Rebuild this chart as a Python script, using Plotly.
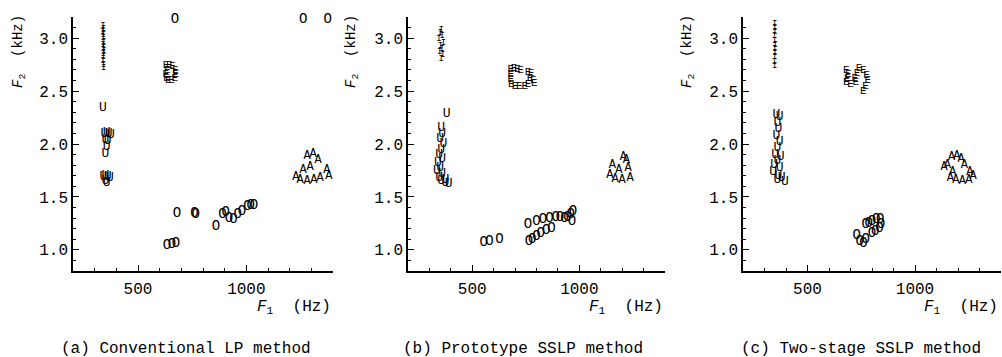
import plotly.graph_objects as go

# ---------------- data (F1 in Hz, F2 in kHz) ----------------
# Panel (a) Conventional LP method
A_I_F1 = [338, 340, 337, 341, 339, 342, 338, 340, 343, 339, 341, 338, 340, 342]
A_I_F2 = [3.12, 3.09, 3.06, 3.03, 3.00, 2.97, 2.94, 2.91, 2.88, 2.85, 2.82, 2.79, 2.75, 2.72]
A_E_F1 = [630, 635, 628, 632, 645, 660, 672, 675, 670, 655, 640]
A_E_F2 = [2.74, 2.70, 2.66, 2.62, 2.74, 2.73, 2.70, 2.66, 2.62, 2.60, 2.60]
A_U_F1 = [338, 345, 355, 365, 375, 350, 360, 355, 350, 340, 350, 360, 370, 355, 350]
A_U_F2 = [2.34, 2.10, 2.11, 2.10, 2.09, 2.04, 2.03, 1.97, 1.91, 1.69, 1.70, 1.69, 1.68, 1.63, 1.65]
A_A_F1 = [1229, 1248, 1262, 1280, 1294, 1280, 1308, 1331, 1312, 1340, 1372, 1381]
A_A_F2 = [1.69, 1.66, 1.75, 1.65, 1.78, 1.89, 1.91, 1.85, 1.66, 1.68, 1.75, 1.70]
A_O_F1 = [670, 1262, 1376, 680, 760, 766, 634, 657, 675, 860,
          890, 905, 920, 940, 960, 980, 1005, 1020, 1035]
A_O_F2 = [3.18, 3.18, 3.18, 1.34, 1.34, 1.33, 1.04, 1.05, 1.06, 1.22,
          1.33, 1.35, 1.30, 1.29, 1.33, 1.36, 1.41, 1.42, 1.42]

# Panel (b) Prototype SSLP method
B_I_F1 = [355, 350, 360, 345, 365, 352, 358, 348, 362, 355]
B_I_F2 = [3.08, 3.05, 3.02, 2.99, 2.96, 2.93, 2.90, 2.87, 2.84, 2.81]
B_E_F1 = [680, 695, 710, 725, 680, 680, 682, 700, 720, 745, 760, 770, 785, 790, 775, 760]
B_E_F2 = [2.71, 2.72, 2.71, 2.70, 2.66, 2.61, 2.56, 2.55, 2.55, 2.55, 2.56, 2.62, 2.60, 2.57, 2.67, 2.68]
B_U_F1 = [380, 355, 360, 350, 365, 355, 345, 360, 340, 350, 335, 360, 345, 375, 390, 375, 355]
B_U_F2 = [2.29, 2.15, 2.10, 2.05, 2.00, 1.95, 1.90, 1.86, 1.82, 1.78, 1.75, 1.72, 1.68, 1.66, 1.62, 1.63, 1.65]
B_A_F1 = [1143, 1154, 1167, 1200, 1237, 1228, 1219, 1205, 1185]
B_A_F2 = [1.71, 1.80, 1.67, 1.66, 1.68, 1.77, 1.85, 1.88, 1.75]
B_O_F1 = [554, 580, 627, 760, 765, 780, 800, 820, 845, 870,
          800, 830, 860, 890, 910, 930, 945, 960, 970, 965]
B_O_F2 = [1.07, 1.08, 1.10, 1.24, 1.08, 1.10, 1.13, 1.15, 1.18, 1.20,
          1.27, 1.29, 1.30, 1.31, 1.31, 1.30, 1.31, 1.33, 1.36, 1.27]

# Panel (c) Two-stage SSLP method
C_I_F1 = [348, 347, 349, 346, 348, 350, 347, 349, 348, 346, 348]
C_I_F2 = [3.14, 3.10, 3.06, 3.02, 2.98, 2.94, 2.90, 2.86, 2.82, 2.78, 2.74]
C_E_F1 = [680, 690, 685, 680, 700, 725, 730, 740, 760, 775, 780, 770, 760, 720]
C_E_F2 = [2.70, 2.66, 2.62, 2.58, 2.56, 2.58, 2.67, 2.72, 2.70, 2.65, 2.60, 2.55, 2.50, 2.62]
C_U_F1 = [355, 370, 360, 365, 355, 370, 360, 350, 375, 360, 345, 370, 340, 365, 380, 360, 395]
C_U_F2 = [2.28, 2.26, 2.20, 2.14, 2.08, 2.02, 1.96, 1.90, 1.88, 1.84, 1.80, 1.78, 1.74, 1.70, 1.68, 1.66, 1.64]
C_A_F1 = [1135, 1150, 1170, 1195, 1215, 1230, 1255, 1270, 1250, 1220, 1190, 1165, 1175]
C_A_F2 = [1.78, 1.80, 1.88, 1.89, 1.86, 1.80, 1.74, 1.70, 1.66, 1.65, 1.66, 1.68, 1.74]
C_O_F1 = [729, 743, 760, 771, 771, 785, 800, 820, 838, 842, 835, 815, 800]
C_O_F2 = [1.14, 1.08, 1.06, 1.10, 1.24, 1.25, 1.27, 1.29, 1.29, 1.24, 1.20, 1.17, 1.15]

CAPTIONS = ["(a) Conventional LP method", "(b) Prototype SSLP method", "(c) Two-stage SSLP method"]
PANELS = [
    {"I": (A_I_F1, A_I_F2), "E": (A_E_F1, A_E_F2), "U": (A_U_F1, A_U_F2), "A": (A_A_F1, A_A_F2), "O": (A_O_F1, A_O_F2)},
    {"I": (B_I_F1, B_I_F2), "E": (B_E_F1, B_E_F2), "U": (B_U_F1, B_U_F2), "A": (B_A_F1, B_A_F2), "O": (B_O_F1, B_O_F2)},
    {"I": (C_I_F1, C_I_F2), "E": (C_E_F1, C_E_F2), "U": (C_U_F1, C_U_F2), "A": (C_A_F1, C_A_F2), "O": (C_O_F1, C_O_F2)},
]

# ---------------- styling ----------------
W, H = 1002, 357
MONO = "Liberation Mono, DejaVu Sans Mono, monospace"
LETTER_SIZE = {"I": 9, "E": 11, "U": 13, "A": 12, "O": 14}
X_DOMAINS = [(73 / W, 333 / W), (408 / W, 665 / W), (743 / W, 1001 / W)]
Y_DOMAIN = (1 - 271 / H, 1 - 17 / H)
YTITLE_X = [19, 352, 688]
XTITLE_RIGHT = [333, 665, 1000]
CAPTION_X = [186, 523, 861]

fig = go.Figure()
for i, panel in enumerate(PANELS):
    suffix = "" if i == 0 else str(i + 1)
    for letter, (f1, f2) in panel.items():
        fig.add_trace(go.Scatter(
            x=f1, y=f2, mode="text", text=[letter] * len(f1),
            textfont=dict(family=MONO, size=LETTER_SIZE[letter], color="black"),
            textposition="middle center", cliponaxis=False, hoverinfo="skip",
            showlegend=False, xaxis="x" + suffix, yaxis="y" + suffix,
        ))

axis_common = dict(
    showgrid=False, zeroline=False, showline=True, linecolor="black", linewidth=1.6,
    ticks="inside", ticklen=6, tickwidth=1.4, tickcolor="black",
    tickfont=dict(family=MONO, size=16, color="black"),
)
layout = dict(
    width=W, height=H, margin=dict(l=0, r=0, t=0, b=0),
    paper_bgcolor="white", plot_bgcolor="white", showlegend=False,
)
annotations = []
for i in range(3):
    suffix = "" if i == 0 else str(i + 1)
    layout["xaxis" + suffix] = dict(
        axis_common, domain=list(X_DOMAINS[i]), range=[200, 1400], dtick=500, tick0=0,
        anchor="y" + suffix, ticklabelstandoff=2,
        minor=dict(ticks="inside", dtick=100, tick0=200, ticklen=3, tickwidth=1.2, tickcolor="black"),
    )
    layout["yaxis" + suffix] = dict(
        axis_common, domain=list(Y_DOMAIN), range=[0.8, 3.2], dtick=0.5, tick0=0,
        tickformat=".1f", anchor="x" + suffix,
        minor=dict(ticks="inside", dtick=0.1, tick0=0, ticklen=3, tickwidth=1.2, tickcolor="black"),
    )
    annotations.append(dict(
        text="<i>F</i><sub>2</sub>  (kHz)", x=YTITLE_X[i] / W, y=1 - 52 / H,
        xref="paper", yref="paper", textangle=-90, showarrow=False,
        xanchor="center", yanchor="middle", font=dict(family=MONO, size=14, color="black"),
    ))
    annotations.append(dict(
        text="<i>F</i><sub>1</sub>  (Hz)", x=XTITLE_RIGHT[i] / W, y=1 - 307 / H,
        xref="paper", yref="paper", showarrow=False,
        xanchor="right", yanchor="middle", font=dict(family=MONO, size=16, color="black"),
    ))
    annotations.append(dict(
        text=CAPTIONS[i], x=CAPTION_X[i] / W, y=1 - 349 / H,
        xref="paper", yref="paper", showarrow=False,
        xanchor="center", yanchor="middle", font=dict(family=MONO, size=16, color="black"),
    ))
layout["annotations"] = annotations
fig.update_layout(**layout)

fig.write_html("out.html")
